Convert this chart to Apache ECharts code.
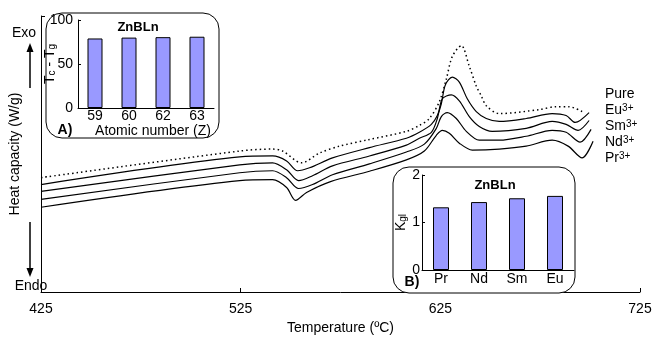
<!DOCTYPE html>
<html>
<head>
<meta charset="utf-8">
<script src="https://cdn.jsdelivr.net/npm/echarts@6/dist/echarts.min.js"></script>
<style>
  html, body { margin: 0; padding: 0; background: #fff; }
  #chart { width: 655px; height: 340px; }
</style>
</head>
<body>
<div id="chart"></div>
<script>
// main DSC curves: [temperature (C), heat capacity (arb. units)]
var pure = [[425,116],[524.5,143],[541,145],[546,143],[555.5,131],[564.5,141],[574.5,148],[589,154.5],[608,163],[614.5,169],[619.5,176],[624.5,193],[628,216],[631,239],[635.5,250],[639.5,229],[643,209],[645.5,199],[648,189],[654.5,181],[674.5,185],[683,188],[689.5,188],[696,183]];
var eu = [[425,109],[524.5,137],[541,138],[548,133],[553.5,123],[559.5,126],[571,136],[589.5,146.5],[608,156],[614.5,162],[620.5,170],[623.5,179],[625.5,191],[627.5,210],[631,218],[634.5,213],[638.5,196],[643,183],[648,176],[654.5,173],[668,176],[681,181],[688,179],[692.5,172],[699.5,182]];
var sm = [[425,102],[524.5,129],[541,131],[548,124],[554,113],[561,118],[571,128],[589.5,138],[608,149],[614.5,156],[620.5,162],[623.5,176],[626,196],[630.5,200],[634.5,194],[639.5,178],[644.5,168],[651,163],[668,166],[681,173],[688,170],[694,164],[699.5,174]];
var nd = [[425,94],[524.5,121],[541,123],[548,116],[554,105],[561,109],[571,119],[589.5,130],[608,142],[617,150],[623,166],[625.5,178],[628.5,182],[633,176],[638,163],[644.5,154],[654.5,154],[668,158],[681,164],[688,162],[695,152],[700.5,165]];
var pr = [[425,86],[524.5,113],[541,114],[548,106],[552.5,93],[558,101],[570,112],[589.5,122.5],[608,134],[617,143],[623,159],[626,164],[629.5,161],[634.5,151],[641,144],[654.5,145],[668,148],[681,154],[689,148],[696,136],[701.5,153]];

// inset A
var atomicNumbers = ['59', '60', '62', '63'];
var tcTg = [79, 80, 80.5, 81];
// inset B
var ions = ['Pr', 'Nd', 'Sm', 'Eu'];
var kgl = [1.32, 1.43, 1.51, 1.56];

var font = "'Liberation Sans', Arial, sans-serif";
var barColor = '#9999ff';

var chart = echarts.init(document.getElementById('chart'), null, { renderer: 'canvas' });

function curve(name, data, dotted) {
    return {
        name: name,
        type: 'line',
        xAxisIndex: 0,
        yAxisIndex: 0,
        data: data,
        smooth: 0.3,
        symbol: 'none',
        z: 2,
        lineStyle: dotted ? { color: '#000', width: 1.5, type: [1.5, 3] } : { color: '#000', width: 1.2 }
    };
}

function curveLabel(base, y) {
    return {
        type: 'text', x: 605, y: y, z: 20,
        style: {
            text: base === 'Pure' ? '{b|Pure}' : '{b|' + base + '}{s|3+}',
            textVerticalAlign: 'middle',
            rich: {
                b: { fontSize: 14, fontFamily: font, fill: '#000' },
                s: { fontSize: 10, fontFamily: font, fill: '#000', verticalAlign: 'top' }
            }
        }
    };
}

var option = {
    animation: false,
    backgroundColor: '#fff',
    textStyle: { fontFamily: font, color: '#000' },
    grid: [
        { left: 41, top: 16, width: 599, height: 280 },
        { left: 78, top: 20, width: 136, height: 88 },
        { left: 422, top: 175, width: 152, height: 95 }
    ],
    xAxis: [
        {
            gridIndex: 0, type: 'value', min: 425, max: 725, interval: 100,
            name: 'Temperature (ºC)', nameLocation: 'middle', nameGap: 29,
            nameTextStyle: { fontSize: 14, color: '#000', fontFamily: font },
            axisLine: { lineStyle: { color: '#000', width: 1 } },
            axisTick: { inside: true, length: 4, lineStyle: { color: '#000' } },
            axisLabel: { fontSize: 14, color: '#000', margin: 10, fontFamily: font },
            splitLine: { show: false }
        },
        {
            gridIndex: 1, type: 'category', data: atomicNumbers, z: 12,
            name: 'Atomic number (Z)', nameLocation: 'middle', nameGap: 15,
            nameTextStyle: { fontSize: 14, color: '#000', fontFamily: font, padding: [0, 0, 0, 14] },
            axisLine: { lineStyle: { color: '#000', width: 1 } },
            axisTick: { inside: true, length: 2, lineStyle: { color: '#000' } },
            axisLabel: { fontSize: 14, color: '#000', margin: 1, fontFamily: font },
            splitLine: { show: false }
        },
        {
            gridIndex: 2, type: 'category', data: ions, z: 12,
            axisLine: { lineStyle: { color: '#000', width: 1 } },
            axisTick: { inside: true, length: 2, lineStyle: { color: '#000' } },
            axisLabel: { fontSize: 14, color: '#000', margin: 2, fontFamily: font },
            splitLine: { show: false }
        }
    ],
    yAxis: [
        {
            gridIndex: 0, type: 'value', min: 0, max: 280, interval: 280,
            name: 'Heat capacity (W/g)', nameLocation: 'middle', nameGap: 19,
            nameTextStyle: { fontSize: 14, color: '#000', fontFamily: font },
            axisLine: { show: true, lineStyle: { color: '#000', width: 1 } },
            axisTick: { show: true, inside: true, length: 4, lineStyle: { color: '#000' } },
            axisLabel: { show: false },
            splitLine: { show: false }
        },
        {
            gridIndex: 1, type: 'value', min: 0, max: 100, interval: 50, z: 12,
            name: 'T{s|c} - T{s|g}', nameLocation: 'middle', nameGap: 21, nameMoveOverlap: false,
            nameTextStyle: {
                fontSize: 14, color: '#000', fontFamily: font,
                rich: { s: { fontSize: 10, fontFamily: font, color: '#000', verticalAlign: 'bottom' } }
            },
            axisLine: { show: true, lineStyle: { color: '#000', width: 1 } },
            axisTick: { show: true, inside: true, length: 3, lineStyle: { color: '#000' } },
            axisLabel: { fontSize: 14, color: '#000', margin: 5, fontFamily: font },
            splitLine: { show: false }
        },
        {
            gridIndex: 2, type: 'value', min: 0, max: 2, interval: 1, z: 12,
            name: 'K{s|gl}', nameLocation: 'middle', nameGap: 14, nameMoveOverlap: false,
            nameTextStyle: {
                fontSize: 14, color: '#000', fontFamily: font,
                rich: { s: { fontSize: 10, fontFamily: font, color: '#000', verticalAlign: 'bottom' } }
            },
            axisLine: { show: true, lineStyle: { color: '#000', width: 1 } },
            axisTick: { show: true, inside: true, length: 3, lineStyle: { color: '#000' } },
            axisLabel: { fontSize: 14, color: '#000', margin: 2, fontFamily: font },
            splitLine: { show: false }
        }
    ],
    graphic: [
        { type: 'rect', z: 1, shape: { x: 46, y: 13, width: 173, height: 125, r: 16 },
          style: { fill: '#fff', stroke: '#000', lineWidth: 1 } },
        { type: 'rect', z: 1, shape: { x: 393, y: 167, width: 182, height: 126, r: 16 },
          style: { fill: '#fff', stroke: '#000', lineWidth: 1 } },
        { type: 'text', x: 138, y: 27, z: 20,
          style: { text: 'ZnBLn', font: 'bold 13px ' + font, fill: '#000', textAlign: 'center', textVerticalAlign: 'middle' } },
        { type: 'text', x: 495, y: 185, z: 20,
          style: { text: 'ZnBLn', font: 'bold 13px ' + font, fill: '#000', textAlign: 'center', textVerticalAlign: 'middle' } },
        { type: 'text', x: 65, y: 130, z: 20,
          style: { text: 'A)', font: 'bold 14px ' + font, fill: '#000', textAlign: 'center', textVerticalAlign: 'middle' } },
        { type: 'text', x: 412, y: 282, z: 20,
          style: { text: 'B)', font: 'bold 14px ' + font, fill: '#000', textAlign: 'center', textVerticalAlign: 'middle' } },
        { type: 'text', x: 24, y: 33, z: 20,
          style: { text: 'Exo', font: '14px ' + font, fill: '#000', textAlign: 'center', textVerticalAlign: 'middle' } },
        { type: 'text', x: 31, y: 286, z: 20,
          style: { text: 'Endo', font: '14px ' + font, fill: '#000', textAlign: 'center', textVerticalAlign: 'middle' } },
        { type: 'line', z: 20, shape: { x1: 30, y1: 88, x2: 30, y2: 50 }, style: { stroke: '#000', lineWidth: 1.5 } },
        { type: 'polygon', z: 20, shape: { points: [[26.5, 52], [33.5, 52], [30, 43]] }, style: { fill: '#000' } },
        { type: 'line', z: 20, shape: { x1: 30, y1: 222, x2: 30, y2: 270 }, style: { stroke: '#000', lineWidth: 1.5 } },
        { type: 'polygon', z: 20, shape: { points: [[26.5, 268], [33.5, 268], [30, 277]] }, style: { fill: '#000' } },
        curveLabel('Pure', 94),
        curveLabel('Eu', 110),
        curveLabel('Sm', 126),
        curveLabel('Nd', 142),
        curveLabel('Pr', 158)
    ],
    series: [
        curve('Pure', pure, true),
        curve('Eu', eu, false),
        curve('Sm', sm, false),
        curve('Nd', nd, false),
        curve('Pr', pr, false),
        {
            type: 'bar', xAxisIndex: 1, yAxisIndex: 1, data: tcTg, barWidth: 15, z: 10,
            itemStyle: { color: barColor, borderColor: '#000', borderWidth: 1 }
        },
        {
            type: 'bar', xAxisIndex: 2, yAxisIndex: 2, data: kgl, barWidth: 16, z: 10,
            itemStyle: { color: barColor, borderColor: '#000', borderWidth: 1 }
        }
    ]
};

chart.setOption(option);
</script>
</body>
</html>
